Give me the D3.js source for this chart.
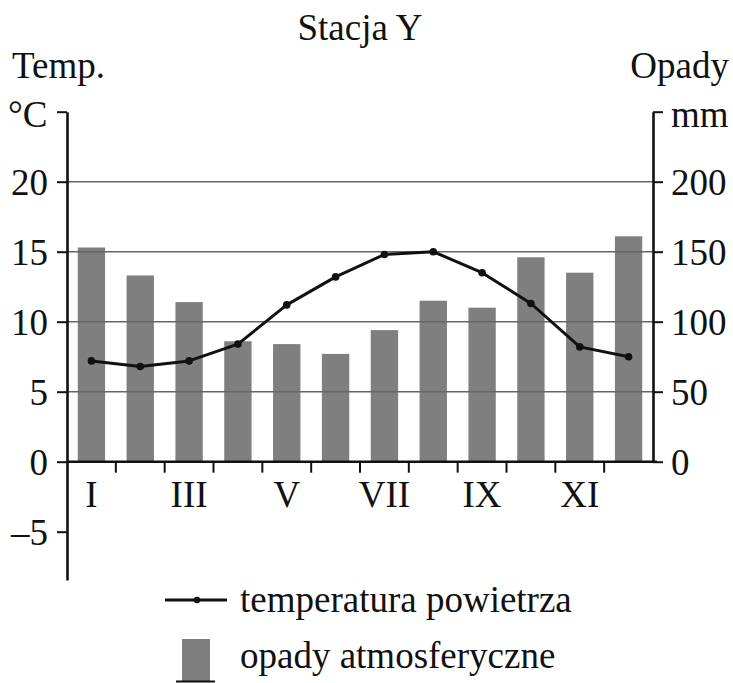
<!DOCTYPE html>
<html>
<head>
<meta charset="utf-8">
<script src="https://cdn.jsdelivr.net/npm/d3@7/dist/d3.min.js"></script>
<style>
  html, body { margin: 0; padding: 0; background: #fff; }
  svg { display: block; }
  text { font-family: "Liberation Serif", "Times New Roman", serif; fill: #111; }
</style>
</head>
<body>
<svg id="chart" width="733" height="683"></svg>
<script>
const months = ["I","II","III","IV","V","VI","VII","VIII","IX","X","XI","XII"];
const monthLabels = ["I","","III","","V","","VII","","IX","","XI",""];
const precipitation = [153, 133, 114, 86, 84, 77, 94, 115, 110, 146, 135, 161];
const temperature = [7.2, 6.8, 7.2, 8.4, 11.2, 13.2, 14.8, 15.0, 13.5, 11.3, 8.2, 7.5];
const tempTicks = [-5, 0, 5, 10, 15, 20, 25];
const tempTickLabels = ["\u20135", "0", "5", "10", "15", "20", ""];
const precipTicks = [0, 50, 100, 150, 200, 250];
const precipTickLabels = ["0", "50", "100", "150", "200", ""];
const title = "Stacja Y";

const FS = 37;
const svg = d3.select("#chart");

const left = 67, right = 653, y0 = 461.7, yTop = 111.7, yBottom = 580;

const x = d3.scaleBand().domain(months).range([left, right]).paddingInner(0.44).paddingOuter(0.22);
const yT = d3.scaleLinear().domain([-8.45, 25]).range([yBottom, yTop]);
const yP = d3.scaleLinear().domain([0, 250]).range([y0, yTop]);
const cx = m => x(m) + x.bandwidth() / 2;

// bars
svg.append("g").selectAll("rect").data(precipitation).join("rect")
  .attr("x", (d, i) => x(months[i]))
  .attr("width", x.bandwidth())
  .attr("y", d => yP(d))
  .attr("height", d => yP(0) - yP(d))
  .attr("fill", "#7f7f7f");

// gridlines (drawn over bars)
svg.append("g").selectAll("line").data([5, 10, 15, 20]).join("line")
  .attr("x1", left).attr("x2", right)
  .attr("y1", d => yT(d)).attr("y2", d => yT(d))
  .attr("stroke", "#666").attr("stroke-width", 1.6);

// zero line / x axis
svg.append("line").attr("x1", left).attr("x2", right + 4)
  .attr("y1", yT(0)).attr("y2", yT(0))
  .attr("stroke", "#111").attr("stroke-width", 2.6);

// x ticks at month boundaries
const bounds = months.slice(0, 11).map((m, i) => (cx(m) + cx(months[i + 1])) / 2);
svg.append("g").selectAll("line").data(bounds).join("line")
  .attr("x1", d => d).attr("x2", d => d)
  .attr("y1", yT(0)).attr("y2", yT(0) + 11)
  .attr("stroke", "#111").attr("stroke-width", 2);

// x labels
svg.append("g").selectAll("text").data(months).join("text")
  .attr("x", d => cx(d)).attr("y", 507)
  .attr("text-anchor", "middle").attr("font-size", FS)
  .text((d, i) => monthLabels[i]);

// left axis
const axL = d3.axisLeft(yT).tickValues(tempTicks).tickSize(10).tickSizeOuter(0)
  .tickFormat((d, i) => tempTickLabels[i]).tickPadding(9);
const gL = svg.append("g").attr("transform", `translate(${left},0)`).call(axL);
gL.select(".domain").attr("stroke", "#111").attr("stroke-width", 2.6);
gL.selectAll(".tick line").attr("stroke", "#111").attr("stroke-width", 2);
gL.selectAll(".tick text").attr("font-size", FS).attr("font-family", "Liberation Serif").attr("fill", "#111").attr("dy", "0.34em");

// right axis
const axR = d3.axisRight(yP).tickValues(precipTicks).tickSize(10).tickSizeOuter(0)
  .tickFormat((d, i) => precipTickLabels[i]).tickPadding(8);
const gR = svg.append("g").attr("transform", `translate(${right},0)`).call(axR);
gR.select(".domain").attr("stroke", "#111").attr("stroke-width", 2.6);
gR.selectAll(".tick line").attr("stroke", "#111").attr("stroke-width", 2);
gR.selectAll(".tick text").attr("font-size", FS).attr("font-family", "Liberation Serif").attr("fill", "#111").attr("dy", "0.34em");

// temperature line
const line = d3.line().x((d, i) => cx(months[i])).y(d => yT(d));
svg.append("path").datum(temperature).attr("d", line)
  .attr("fill", "none").attr("stroke", "#111").attr("stroke-width", 3).attr("stroke-linejoin", "round");
svg.append("g").selectAll("circle").data(temperature).join("circle")
  .attr("cx", (d, i) => cx(months[i])).attr("cy", d => yT(d)).attr("r", 3.8).attr("fill", "#111");

// titles
svg.append("text").attr("x", 360).attr("y", 40).attr("text-anchor", "middle").attr("font-size", FS).text(title);
svg.append("text").attr("x", 12).attr("y", 78).attr("font-size", FS).text("Temp.");
svg.append("text").attr("x", 729).attr("y", 78).attr("text-anchor", "end").attr("font-size", FS).text("Opady");
svg.append("text").attr("x", 8).attr("y", 127).attr("font-size", FS).text("\u00B0C");
svg.append("text").attr("x", 671).attr("y", 127).attr("font-size", FS).text("mm");

// legend
svg.append("line").attr("x1", 165).attr("x2", 227).attr("y1", 600).attr("y2", 600)
  .attr("stroke", "#111").attr("stroke-width", 3);
svg.append("circle").attr("cx", 197).attr("cy", 600).attr("r", 3.2).attr("fill", "#111");
svg.append("text").attr("x", 240).attr("y", 612).attr("font-size", FS).text("temperatura powietrza");
svg.append("rect").attr("x", 182).attr("y", 639).attr("width", 28).attr("height", 43).attr("fill", "#7f7f7f");
svg.append("line").attr("x1", 176).attr("x2", 215).attr("y1", 681.5).attr("y2", 681.5)
  .attr("stroke", "#111").attr("stroke-width", 2);
svg.append("text").attr("x", 240).attr("y", 668).attr("font-size", FS).text("opady atmosferyczne");
</script>
</body>
</html>
